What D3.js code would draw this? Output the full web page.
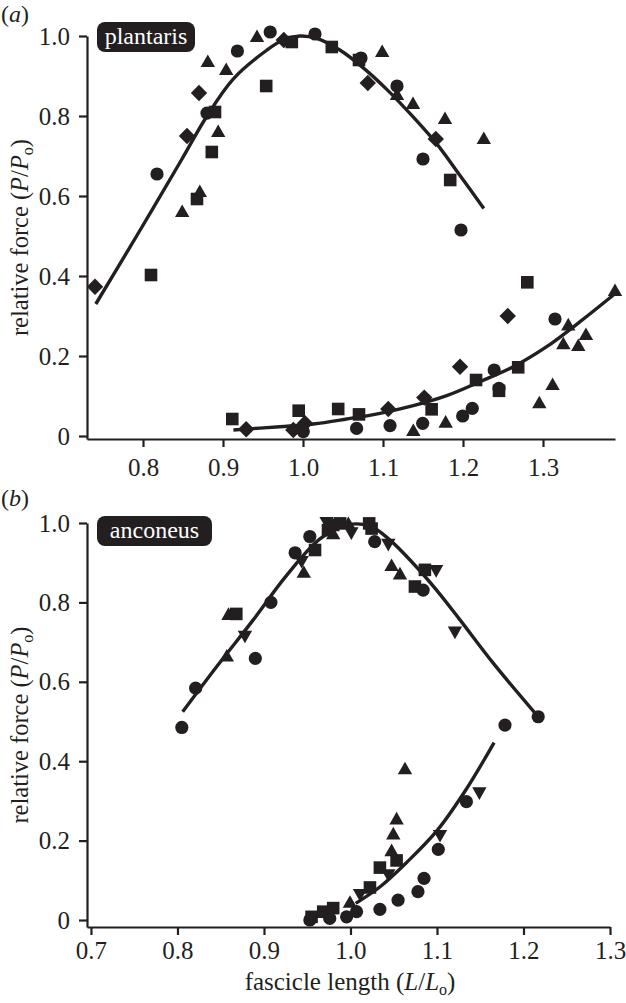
<!DOCTYPE html>
<html>
<head>
<meta charset="utf-8">
<script src="https://cdn.jsdelivr.net/npm/d3@7"></script>
<style>
  html, body { margin: 0; padding: 0; background: #fff; }
  svg { display: block; font-family: "Liberation Serif", "DejaVu Serif", serif; }
</style>
</head>
<body>
<svg id="chart" width="626" height="1003"></svg>
<script>
// ---------------- DATA ----------------
// Panel (a) plantaris: active (isometric) force
const plantarisActiveCircles = [[0.959,1.01],[1.015,1.005],[0.918,0.9625],[0.88,0.807],[0.8175,0.655],[1.0725,0.945],[1.1175,0.875],[1.15,0.6925],[1.1975,0.515]];
const plantarisActiveSquares = [[0.986,0.985],[0.954,0.875],[0.89,0.81],[0.886,0.71],[0.8675,0.5925],[0.81,0.4025],[1.036,0.9725],[1.07,0.94],[1.184,0.64]];
const plantarisActiveDiamonds = [[0.976,0.99],[0.870,0.8575],[0.855,0.75],[0.74,0.373],[1.081,0.8825],[1.166,0.7425]];
const plantarisActiveTriangles = [[0.9425,1.0],[0.881,0.9375],[0.904,0.9175],[0.894,0.7625],[0.871,0.6125],[0.849,0.5625],[1.099,0.9625],[1.1175,0.855],[1.1375,0.8325],[1.1775,0.795],[1.226,0.745]];
// Panel (a) plantaris: passive force
const plantarisPassiveCircles = [[1.0004,0.011],[1.067,0.019],[1.1088,0.026],[1.1496,0.0317],[1.1996,0.05],[1.2116,0.069],[1.239,0.165],[1.245,0.119],[1.315,0.2925]];
const plantarisPassiveSquares = [[0.9116,0.0425],[0.9946,0.0633],[1.044,0.0675],[1.07,0.054],[1.1608,0.0667],[1.2163,0.14],[1.245,0.113],[1.269,0.1717],[1.2804,0.3842]];
const plantarisPassiveDiamonds = [[0.929,0.0168],[0.9879,0.015],[1.0025,0.0317],[1.1066,0.0675],[1.1516,0.096],[1.1963,0.1733],[1.2559,0.30]];
const plantarisPassiveTriangles = [[1.1379,0.015],[1.1783,0.0358],[1.2954,0.0843],[1.312,0.13],[1.3254,0.2317],[1.3316,0.279],[1.3441,0.2275],[1.3537,0.255],[1.39,0.365]];
// Panel (a) fitted curves
const plantarisActiveFit = [[0.741,0.33],[0.795,0.51],[0.848,0.69],[0.88,0.80],[0.913,0.893],[0.955,0.965],[0.975,0.99],[0.996,1.0],[1.017,0.994],[1.046,0.965],[1.075,0.921],[1.105,0.866],[1.138,0.797],[1.167,0.731],[1.196,0.652],[1.226,0.569]];
const plantarisPassiveFit = [[0.913,0.015],[0.971,0.0233],[1.0129,0.03],[1.0546,0.0425],[1.0963,0.0567],[1.1379,0.0758],[1.1796,0.1008],[1.2213,0.1358],[1.263,0.1733],[1.3046,0.2233],[1.3463,0.2858],[1.388,0.3525]];

// Panel (b) anconeus: active force
const anconeusActiveCircles = [[0.805,0.485],[0.821,0.584],[0.890,0.659],[0.908,0.80],[0.936,0.925],[0.953,0.966],[1.028,0.953],[1.084,0.831],[1.217,0.512]];
const anconeusActiveSquares = [[0.868,0.771],[0.959,0.932],[0.974,0.982],[0.980,0.995],[0.988,0.999],[1.0216,0.999],[1.0244,0.986],[1.0745,0.84],[1.086,0.882]];
const anconeusActiveTrianglesUp = [[0.859,0.771],[0.857,0.666],[0.946,0.877],[0.980,0.974],[0.9975,1.0],[1.0475,0.894],[1.0572,0.873]];
const anconeusActiveTrianglesDown = [[0.878,0.7136],[0.9435,0.902],[0.9724,1.0],[1.001,0.974],[1.0437,0.945],[1.099,0.879],[1.1208,0.724]];
// Panel (b) anconeus: passive force
const anconeusPassiveCircles = [[0.953,0.0],[0.976,0.004],[0.9955,0.008],[1.007,0.021],[1.034,0.027],[1.055,0.05],[1.078,0.0713],[1.085,0.105],[1.1015,0.178],[1.134,0.298],[1.1786,0.491]];
const anconeusPassiveSquares = [[0.955,0.008],[0.9685,0.021],[0.980,0.03],[1.0225,0.082],[1.034,0.132],[1.0533,0.15]];
const anconeusPassiveTrianglesUp = [[0.9994,0.046],[1.0475,0.176],[1.0495,0.218],[1.0533,0.256],[1.063,0.382]];
const anconeusPassiveTrianglesDown = [[1.011,0.063],[1.0437,0.113],[1.1035,0.2116],[1.149,0.319]];
// Panel (b) fitted curves
const anconeusActiveFit = [[0.806,0.5247],[0.8452,0.638],[0.8876,0.756],[0.925,0.865],[0.9647,0.960],[0.9955,0.995],[1.0225,0.992],[1.0457,0.957],[1.0726,0.898],[1.0995,0.831],[1.1266,0.756],[1.165,0.647],[1.217,0.512]];
const anconeusPassiveFit = [[1.006,0.042],[1.035,0.085],[1.065,0.145],[1.1,0.225],[1.134,0.33],[1.166,0.447]];

// Tick labels
const yTicks = [0, 0.2, 0.4, 0.6, 0.8, 1.0];
const xTicksTop = [0.8, 0.9, 1.0, 1.1, 1.2, 1.3];
const xTicksBottom = [0.7, 0.8, 0.9, 1.0, 1.1, 1.2, 1.3];

// ---------------- DRAW ----------------
const INK = "#231f20";
const svg = d3.select("#chart");

const shapes = {
  circle: "M6.6,0A6.6,6.6,0,1,1,-6.6,0A6.6,6.6,0,1,1,6.6,0Z",
  square: "M-6.3,-6.3H6.3V6.3H-6.3Z",
  diamond: "M0,-8.2L8.2,0L0,8.2L-8.2,0Z",
  triUp: "M0,-6.6L7.2,6.0L-7.2,6.0Z",
  triDown: "M0,6.6L7.2,-6.0L-7.2,-6.0Z"
};

function yFmt(d) { return d === 0 ? "0" : d3.format(".1f")(d); }

function panel(cfg) {
  const g = svg.append("g");
  const x = d3.scaleLinear().domain(cfg.xDomain).range(cfg.xRange);
  const y = d3.scaleLinear().domain(cfg.yDomain).range(cfg.yRange);

  // axes
  const ax = g.append("g").attr("transform", `translate(0,${cfg.yRange[0]})`)
    .call(d3.axisBottom(x).tickValues(cfg.xTicks).tickFormat(d3.format(".1f"))
      .tickSize(8).tickSizeOuter(0).tickPadding(cfg.xPad));
  const ay = g.append("g").attr("transform", `translate(${cfg.xRange[0]},0)`)
    .call(d3.axisLeft(y).tickValues(yTicks).tickFormat(yFmt)
      .tickSize(8).tickSizeOuter(0).tickPadding(9));
  [ax, ay].forEach(a => {
    a.select(".domain").attr("stroke", INK).attr("stroke-width", 2.2);
    a.selectAll(".tick line").attr("stroke", INK).attr("stroke-width", 2.2);
    a.selectAll(".tick text").attr("fill", INK)
      .style("font-family", '"Liberation Serif", serif').style("font-size", "25px");
  });

  // fitted curves
  const line = d3.line().x(d => x(d[0])).y(d => y(d[1])).curve(d3.curveCatmullRom.alpha(0.5));
  cfg.fits.forEach(f => {
    g.append("path").attr("d", line(f)).attr("fill", "none")
      .attr("stroke", INK).attr("stroke-width", 3.4).attr("stroke-linecap", "butt");
  });

  // markers
  cfg.series.forEach(s => {
    g.append("g").selectAll("path").data(s.data).join("path")
      .attr("d", shapes[s.shape])
      .attr("transform", d => `translate(${x(d[0])},${y(d[1])})`)
      .attr("fill", INK);
  });

  // y-axis label
  const yMid = (cfg.yRange[0] + cfg.yRange[1]) / 2;
  const yl = g.append("text")
    .attr("transform", `translate(28,${yMid}) rotate(-90)`)
    .attr("text-anchor", "middle").attr("fill", INK)
    .style("font-size", "24.5px");
  yl.append("tspan").text("relative force (");
  yl.append("tspan").attr("font-style", "italic").text("P");
  yl.append("tspan").text("/");
  yl.append("tspan").attr("font-style", "italic").text("P");
  yl.append("tspan").attr("dy", 5).style("font-size", "16px").text("o");
  yl.append("tspan").attr("dy", -5).text(")");

  // panel letter
  const pl = g.append("text").attr("x", 1).attr("y", cfg.letterY).attr("fill", INK).style("font-size", "24px");
  pl.append("tspan").text("(");
  pl.append("tspan").attr("font-style", "italic").text(cfg.letter);
  pl.append("tspan").text(")");

  // muscle name badge
  g.append("rect").attr("x", 97).attr("y", cfg.badgeY).attr("width", cfg.badgeW).attr("height", 30)
    .attr("rx", 8).attr("fill", INK);
  g.append("text").attr("x", 97 + cfg.badgeW / 2).attr("y", cfg.badgeY + 22)
    .attr("text-anchor", "middle").attr("fill", "#fff").style("font-size", "24px").text(cfg.name);

  return { x, y };
}

panel({
  xDomain: [0.73, 1.39], xRange: [87, 615],
  yDomain: [-0.0075, 1.0], yRange: [439, 36],
  xTicks: xTicksTop, xPad: 11,
  fits: [plantarisActiveFit, plantarisPassiveFit],
  series: [
    { data: plantarisActiveCircles, shape: "circle" },
    { data: plantarisActiveSquares, shape: "square" },
    { data: plantarisActiveDiamonds, shape: "diamond" },
    { data: plantarisActiveTriangles, shape: "triUp" },
    { data: plantarisPassiveCircles, shape: "circle" },
    { data: plantarisPassiveSquares, shape: "square" },
    { data: plantarisPassiveDiamonds, shape: "diamond" },
    { data: plantarisPassiveTriangles, shape: "triUp" }
  ],
  letter: "a", letterY: 22,
  name: "plantaris", badgeY: 22, badgeW: 98
});

panel({
  xDomain: [0.6954, 1.3], xRange: [87, 610],
  yDomain: [-0.0176, 1.0], yRange: [927, 523],
  xTicks: xTicksBottom, xPad: 6,
  fits: [anconeusActiveFit, anconeusPassiveFit],
  series: [
    { data: anconeusActiveCircles, shape: "circle" },
    { data: anconeusActiveSquares, shape: "square" },
    { data: anconeusActiveTrianglesUp, shape: "triUp" },
    { data: anconeusActiveTrianglesDown, shape: "triDown" },
    { data: anconeusPassiveCircles, shape: "circle" },
    { data: anconeusPassiveSquares, shape: "square" },
    { data: anconeusPassiveTrianglesUp, shape: "triUp" },
    { data: anconeusPassiveTrianglesDown, shape: "triDown" }
  ],
  letter: "b", letterY: 506,
  name: "anconeus", badgeY: 516, badgeW: 115
});

// x-axis title
const xl = svg.append("text").attr("x", 350).attr("y", 990).attr("text-anchor", "middle")
  .attr("fill", INK).style("font-size", "25px");
xl.append("tspan").text("fascicle length (");
xl.append("tspan").attr("font-style", "italic").text("L");
xl.append("tspan").text("/");
xl.append("tspan").attr("font-style", "italic").text("L");
xl.append("tspan").attr("dy", 5).style("font-size", "16px").text("o");
xl.append("tspan").attr("dy", -5).text(")");
</script>
</body>
</html>
